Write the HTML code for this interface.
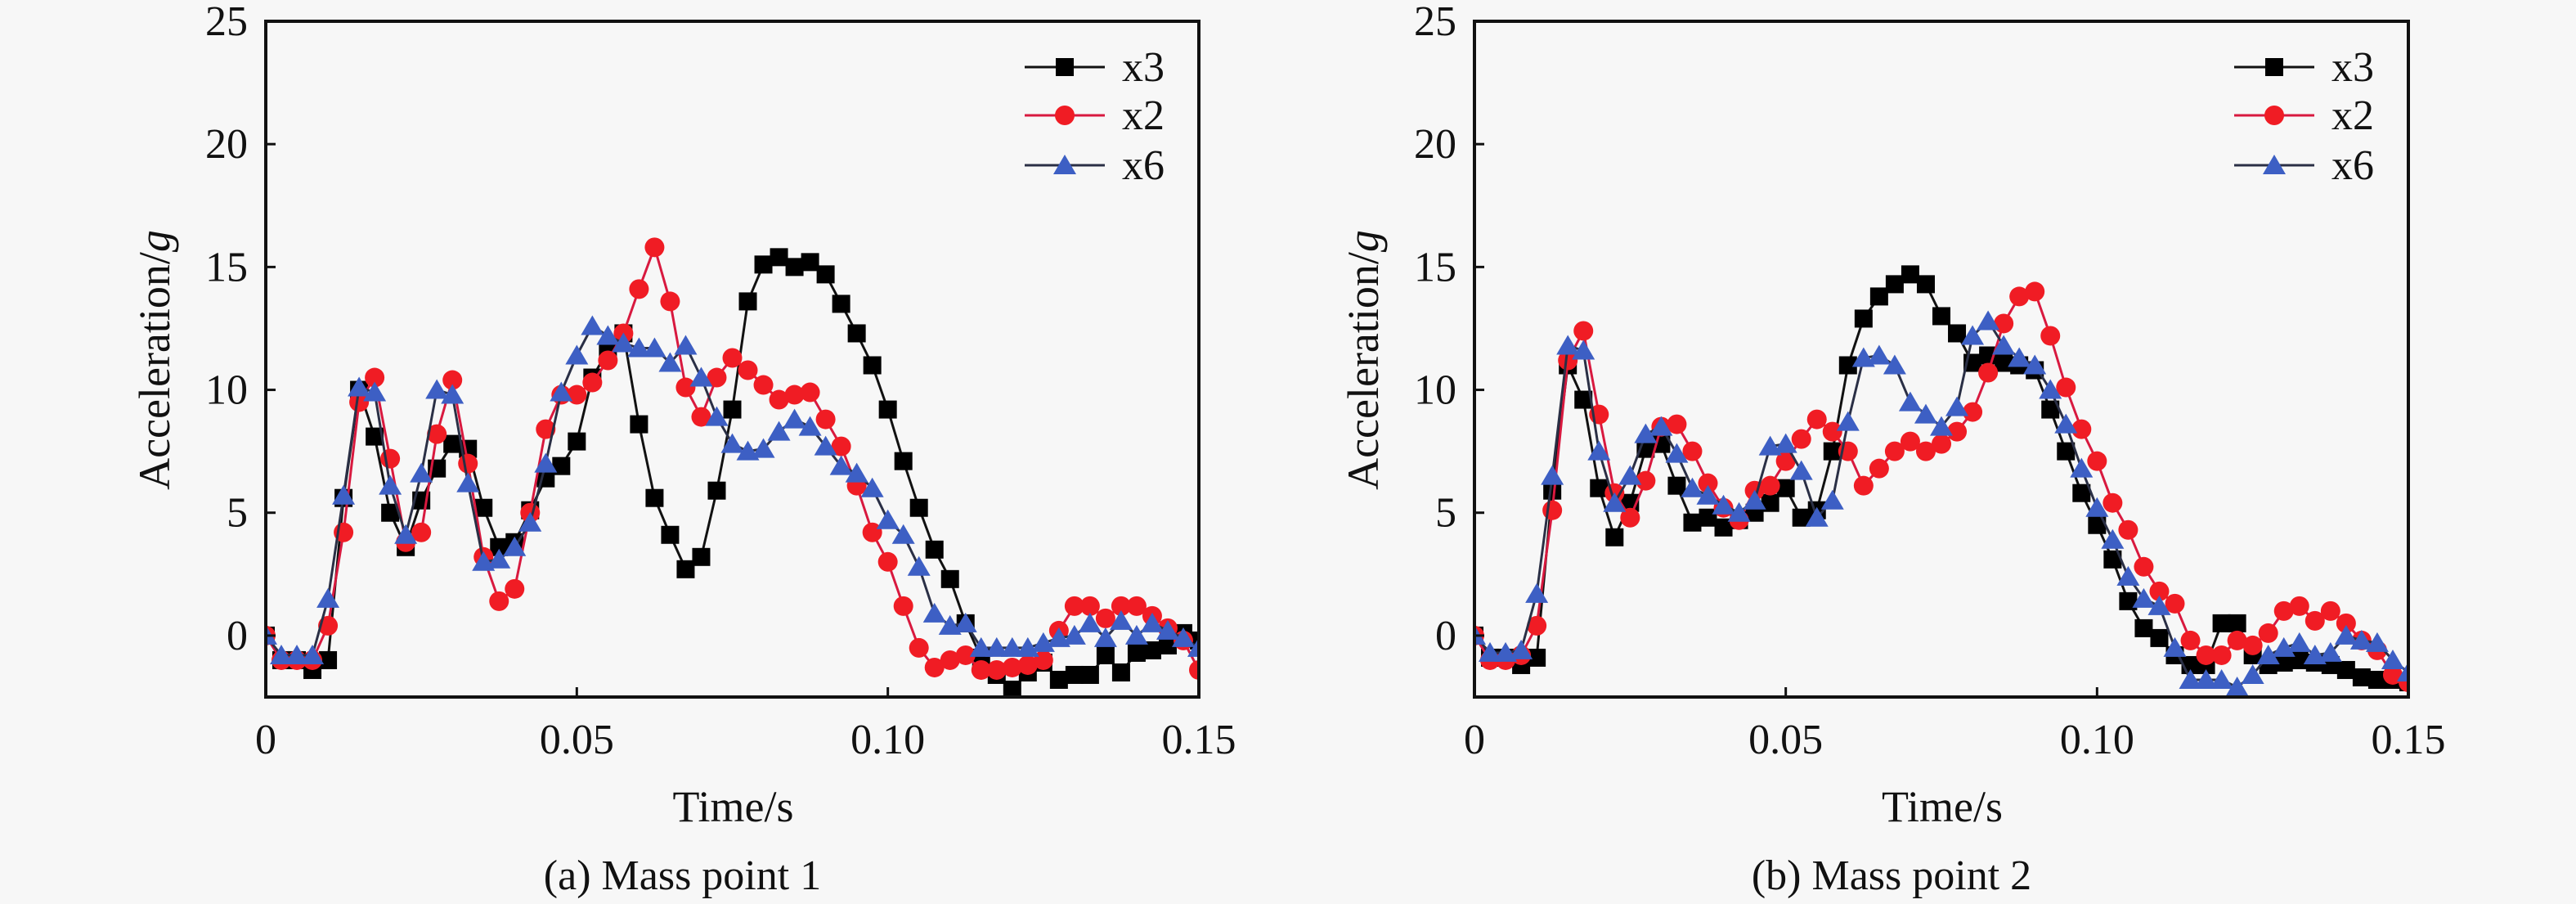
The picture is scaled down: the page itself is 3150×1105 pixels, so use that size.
<!DOCTYPE html>
<html><head><meta charset="utf-8"><style>
html,body{margin:0;padding:0;background:#f7f7f7;}
svg{display:block;}
text{font-family:"Liberation Serif",serif;fill:#111;}
</style></head><body>
<svg id="fig" width="3150" height="1105" viewBox="0 0 3150 1105" xmlns="http://www.w3.org/2000/svg">
<rect x="0" y="0" width="3150" height="1105" fill="#f7f7f7"/>
</svg>
<script>
const times=[];for(let i=0;i<=60;i++)times.push(i*0.0025);
const xTicks=[0,0.05,0.10,0.15];
const xTickLabels=["0","0.05","0.10","0.15"];
const yTicks=[0,5,10,15,20,25];
const yTickLabels=["0","5","10","15","20","25"];
const seriesNames=["x3","x2","x6"];
const a_x3=[0,-1.0,-1.0,-1.4,-1.0,5.6,10.0,8.1,5.0,3.6,5.5,6.8,7.8,7.6,5.2,3.6,3.8,5.1,6.4,6.9,7.9,10.5,11.6,12.3,8.6,5.6,4.1,2.7,3.2,5.9,9.2,13.6,15.1,15.4,15.0,15.2,14.7,13.5,12.3,11.0,9.2,7.1,5.2,3.5,2.3,0.5,-0.9,-1.6,-2.2,-1.5,-1.1,-1.8,-1.6,-1.6,-0.8,-1.5,-0.7,-0.6,-0.4,0.1,-0.2];
const a_x2=[0,-1.0,-1.0,-1.0,0.4,4.2,9.5,10.5,7.2,3.8,4.2,8.2,10.4,7.0,3.2,1.4,1.9,5.0,8.4,9.8,9.8,10.3,11.2,12.3,14.1,15.8,13.6,10.1,8.9,10.5,11.3,10.8,10.2,9.6,9.8,9.9,8.8,7.7,6.1,4.2,3.0,1.2,-0.5,-1.3,-1.0,-0.8,-1.4,-1.4,-1.3,-1.2,-1.0,0.2,1.2,1.2,0.7,1.2,1.2,0.8,0.3,-0.2,-1.4];
const a_x6=[0,-0.8,-0.8,-0.8,1.5,5.7,10.1,9.9,6.1,4.1,6.6,10.0,9.8,6.2,3.0,3.1,3.6,4.6,7.0,9.9,11.4,12.6,12.2,11.9,11.7,11.7,11.1,11.8,10.5,8.9,7.8,7.5,7.6,8.3,8.8,8.5,7.7,6.9,6.6,6.0,4.7,4.1,2.8,0.9,0.4,0.5,-0.5,-0.5,-0.5,-0.5,-0.3,-0.1,0.0,0.5,-0.1,0.6,0.0,0.5,0.2,-0.1,-0.5];
const b_x3=[0,-0.9,-0.9,-1.2,-0.9,5.9,11.0,9.6,6.0,4.0,5.4,7.6,7.8,6.1,4.6,4.8,4.4,4.7,5.0,5.4,6.0,4.8,5.1,7.5,11.0,12.9,13.8,14.3,14.7,14.3,13.0,12.3,11.1,11.4,11.1,11.0,10.8,9.2,7.5,5.8,4.5,3.1,1.4,0.3,-0.1,-0.8,-1.2,-1.2,0.5,0.5,-0.8,-1.2,-1.1,-1.0,-1.1,-1.2,-1.4,-1.7,-1.8,-1.8,-1.9];
const b_x2=[0,-1.0,-1.0,-0.8,0.4,5.1,11.2,12.4,9.0,5.8,4.8,6.3,8.5,8.6,7.5,6.2,5.2,4.7,5.9,6.1,7.1,8.0,8.8,8.3,7.5,6.1,6.8,7.5,7.9,7.5,7.8,8.3,9.1,10.7,12.7,13.8,14.0,12.2,10.1,8.4,7.1,5.4,4.3,2.8,1.8,1.3,-0.2,-0.8,-0.8,-0.2,-0.4,0.1,1.0,1.2,0.6,1.0,0.5,-0.2,-0.6,-1.6,-1.9];
const b_x6=[0,-0.7,-0.7,-0.6,1.7,6.5,11.8,11.6,7.5,5.4,6.5,8.2,8.5,7.4,6.0,5.7,5.3,5.0,5.5,7.7,7.8,6.7,4.8,5.5,8.7,11.3,11.4,11.0,9.5,9.0,8.5,9.3,12.2,12.8,11.8,11.3,11.0,10.0,8.6,6.8,5.2,3.9,2.4,1.5,1.2,-0.5,-1.8,-1.8,-1.8,-2.1,-1.6,-0.8,-0.5,-0.3,-0.8,-0.7,0.0,-0.2,-0.3,-1.0,-1.5];

const NS="http://www.w3.org/2000/svg";
const svg=document.getElementById('fig');
function mk(tag,attrs,parent){const e=document.createElementNS(NS,tag);for(const k in attrs)e.setAttribute(k,attrs[k]);(parent||svg).appendChild(e);return e;}

const styles=[
 {line:"#111",fill:"#000",shape:"square"},
 {line:"#d8193f",fill:"#f01c24",shape:"circle"},
 {line:"#2a2f45",fill:"#3d5fc4",shape:"tri"}];

function marker(g,shape,cx,cy,fill){
  let m;
  if(shape==="square")m=mk('rect',{x:cx-11,y:cy-11,width:22,height:22,fill:fill},g);
  else if(shape==="circle")m=mk('circle',{cx:cx,cy:cy,r:12,fill:fill},g);
  else m=mk('polygon',{points:`${cx},${cy-13} ${cx+14},${cy+11} ${cx-14},${cy+11}`,fill:fill},g);
  return m;
}

function panel(id,L,R,letter,caption,series){
  const T=26,B=852,ymin=-2.5,ymax=25;
  const xs=v=>L+(v-0)/(0.15)*(R-L);
  const ys=v=>B-(v-ymin)/(ymax-ymin)*(B-T);
  const g=mk('g',{});
  
  
  const clip=mk('clipPath',{id:'clip-'+id},g);
  mk('rect',{x:L,y:T,width:R-L,height:B-T},clip);
  const plot=mk('g',{'clip-path':`url(#clip-${id})`},g);
  
  
  series.forEach((vals,si)=>{
    const st=styles[si];
    const sg=mk('g',{},plot);
    
    
    const pts=vals.map((v,i)=>xs(times[i]).toFixed(1)+','+ys(v).toFixed(1)).join(' ');
    const pl=mk('polyline',{points:pts,fill:'none',stroke:st.line,'stroke-width':3,'stroke-linejoin':'round'},sg);
    
    
    vals.forEach((v,i)=>{
      const m=marker(sg,st.shape,xs(times[i]),ys(v),st.fill);
      
      
    });
  });
  const frame=mk('rect',{x:L,y:T,width:R-L,height:B-T,fill:'none',stroke:'#111','stroke-width':4},g);
  
  
  yTicks.forEach((v,i)=>{
    const y=ys(v);
    const t=mk('line',{x1:L,x2:L+12,y1:y,y2:y,stroke:'#111','stroke-width':3},g);
    
    
    const tx=mk('text',{x:L-22,y:y+17,'text-anchor':'end','font-size':52},g);
    tx.textContent=yTickLabels[i];
    
    
  });
  xTicks.forEach((v,i)=>{
    const x=xs(v);
    const t=mk('line',{x1:x,x2:x,y1:B,y2:B-12,stroke:'#111','stroke-width':3},g);
    
    
    const tx=mk('text',{x:x,y:921,'text-anchor':'middle','font-size':52},g);
    tx.textContent=xTickLabels[i];
    
    
  });
  const xt=mk('text',{x:(L+R)/2+1,y:1004,'text-anchor':'middle','font-size':54},g);
  xt.textContent='Time/s';
  
  
  const yt=mk('text',{x:0,y:0,'text-anchor':'middle','font-size':54,transform:`translate(${L-118},440) rotate(-90)`},g);
  yt.appendChild(document.createTextNode('Acceleration/'));
  const it=mk('tspan',{'font-style':'italic'},yt);it.textContent='g';
  
  
  const cap=mk('text',{x:(L+R)/2-61,y:1087,'text-anchor':'middle','font-size':52},g);
  cap.textContent=caption;
  
  
  const lx=R-213, lys=[82,141,202];
  seriesNames.forEach((n,si)=>{
    const st=styles[si];
    const lg=mk('g',{},g);
    
    
    mk('line',{x1:lx,x2:lx+98,y1:lys[si],y2:lys[si],stroke:st.line,'stroke-width':3},lg);
    marker(lg,st.shape,lx+49,lys[si],st.fill);
    const tx=mk('text',{x:lx+119,y:lys[si]+17,'font-size':52},lg);
    tx.textContent=n;
  });
}
panel('panel-a',325,1466,'a','(a) Mass point 1',[a_x3,a_x2,a_x6]);
panel('panel-b',1803,2945,'b','(b) Mass point 2',[b_x3,b_x2,b_x6]);
</script>
</body></html>
